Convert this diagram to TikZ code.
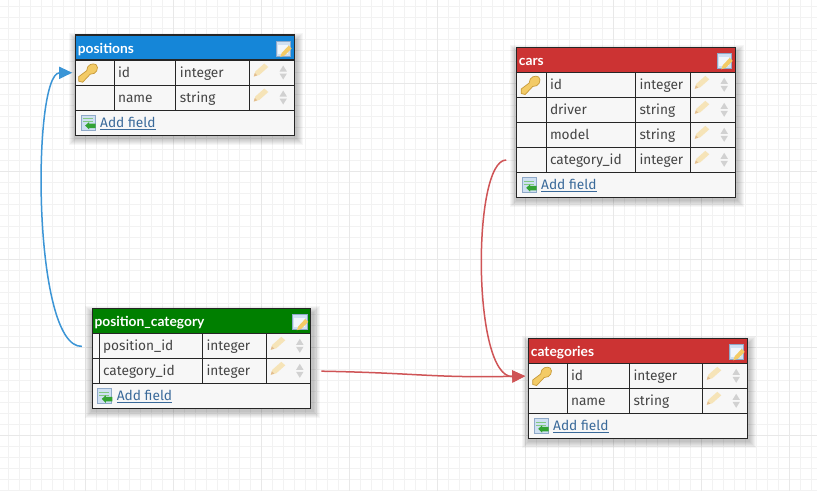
\documentclass[tikz,border=0pt]{standalone}
\usepackage{fontspec}
\setmainfont{Fira Sans}
\newfontfamily\titlefont{Lato}[BoldFont=* Bold]
\usetikzlibrary{arrows.meta}

\definecolor{posblue}{HTML}{1586D8}
\definecolor{carred}{HTML}{CC3333}
\definecolor{catgreen}{HTML}{007F00}
\definecolor{linkblue}{HTML}{3A6A9A}
\definecolor{rowgrey}{HTML}{F7F7F7}
\definecolor{textgrey}{HTML}{444444}
\definecolor{linkred}{HTML}{CF5456}
\definecolor{linkcyan}{HTML}{3B95D6}
\definecolor{keyfill}{HTML}{F3CB66}
\definecolor{keyedge}{HTML}{C79A3A}
\definecolor{penfill}{HTML}{F6E4B8}
\definecolor{pentip}{HTML}{E3BE90}
\definecolor{sheetfill}{HTML}{CFE0F2}
\definecolor{sheetedge}{HTML}{8FA9C8}

\tikzset{
	fieldtext/.style = {anchor = base west, inner sep = 0pt, text = textgrey, font = \fontsize{13.7}{16}\selectfont},
	titletext/.style = {anchor = base west, inner sep = 0pt, text = white, font = \titlefont\bfseries\fontsize{13.8}{16}\selectfont},
	linktext/.style = {anchor = base west, inner sep = 0pt, text = linkblue, font = \fontsize{13.7}{16}\selectfont},
	rowbox/.style = {anchor = north west, inner sep = 0pt, minimum width = 218.6pt, minimum height = 25pt},
	tabline/.style = {draw = black!85, line width = 1.1pt},
	link/.style = {line width = 1.5pt, -{Triangle[length = 13pt, width = 12pt]}},
	keyicon/.pic = {
		\draw [fill = keyfill, draw = keyedge, line width = 0.7pt, line join = round]
			(-9.5, 8.5) -- (-9.5, 4) -- (-1.5, -2) .. controls (-1.5, -8.5) and (5, -10) .. (8, -8)
			.. controls (11, -5) and (8.5, 2) .. (2, 1.5) -- (-5.5, 9.5) -- cycle;
	},
	penicon/.pic = {
		\fill [penfill] (-7.5, 7) -- (-6, 2) -- (3, -6) -- (7, -2.5) -- (-2, 5.5) -- cycle;
		\fill [pentip] (-7.5, 7) -- (-6.5, 3.5) -- (-4, 5.8) -- cycle;
	},
	sorticon/.pic = {
		\fill [black!18] (-3.7, -1.5) -- (0, -7.5) -- (3.7, -1.5) -- cycle;
		\fill [black!18] (-3.7, 0.5) -- (0, 6.5) -- (3.7, 0.5) -- cycle;
	},
	editicon/.pic = {
		\draw [fill = sheetfill, draw = sheetedge] (-7.5, -7.5) rectangle (7, 7.5);
		\fill [white!70!sheetfill] (-5.5, -3.5) rectangle (5, 5.5);
		\fill [keyfill] (-3, 8.5) -- (-1.5, 4.5) -- (5.5, -3) -- (8.5, 0) -- (1.5, 7) -- cycle;
	},
	addicon/.pic = {
		\draw [fill = sheetfill, draw = sheetedge] (-7.5, -7.5) rectangle (6.5, 7.5);
		\draw [green!40!gray!70] (-5.5, -4) -- (4.5, -4) (-5.5, -1) -- (4.5, -1);
		\fill [green!55!black!80] (-3, 3) -- (1, -0.5) -- (1, 1) -- (7.5, 1) -- (7.5, 5.5) -- (1, 5.5) -- (1, 7) -- cycle;
	},
}

% #1 name, #2 title, #3 colour, #4 left, #5 top, #6-#8 columns, #9 fields
\newcommand{\dbtable}[9]{
	\foreach \i in {1, ..., 7}
		\fill [black, opacity = 0.035] (#4 - 8 + \i, #5 - 3 + \i)
			rectangle ++(218.6 + 18 - 2 * \i, 25 * \tablerows + 50 + 14 - 2 * \i);
	\path [fill = rowgrey] (#4, #5) rectangle ++(218.6, 25 * \tablerows + 50.5);
	\fill [#3] (#4, #5) rectangle ++(218.6, 25);
	\node [titletext] (#1-title) at (#4 + 2, #5 + 18) {#2};
	\pic at (#4 + 207.5, #5 + 13.5) {editicon};
	\foreach \fieldname/\fieldtype [count = \n from 0] in {#9} {
		\node [rowbox] (#1-\n) at (#4, #5 + 25 + 25 * \n) {};
		\draw [tabline] (#1-\n.south west) -- (#1-\n.south east);
		\node [fieldtext] (#1-\n-name) at (#4 + #6 + 3.5, #5 + 42.5 + 25 * \n) {\fieldname};
		\node [fieldtext] (#1-\n-type) at (#4 + #7 + 4, #5 + 42.5 + 25 * \n) {\fieldtype};
		\pic at (#4 + #8 + 12, #5 + 34.5 + 25 * \n) {penicon};
		\pic at (#4 + 207.5, #5 + 38 + 25 * \n) {sorticon};
	}
	\draw [tabline] (#4, #5 + 25) -- ++(218.6, 0);
	\foreach \c in {#6, #7, #8}
		\draw [tabline] (#4 + \c, #5 + 25) -- ++(0, 25 * \tablerows);
	\pic at (#4 + 12.5, #5 + 25 * \tablerows + 37.5) {addicon};
	\node [linktext] (#1-add) at (#4 + 24.3, #5 + 25 * \tablerows + 42.5) {\underline{Add field}};
	\draw [tabline] (#4, #5) rectangle ++(218.6, 25 * \tablerows + 50.5);
}

\begin{document}
\begin{tikzpicture}[x = 1pt, y = -1pt]
	\useasboundingbox (0, 0) rectangle (817, 491);
	\fill [white] (0, 0) rectangle (817, 491);

	% grid
	\foreach \k in {0, ..., 74}
		\draw [black!5, line width = 0.6pt] (8 + 11 * \k, 0) -- (8 + 11 * \k, 491);
	\foreach \k in {0, ..., 44}
		\draw [black!5, line width = 0.6pt] (0, 6 + 11 * \k) -- (817, 6 + 11 * \k);
	\foreach \k in {0, ..., 8}
		\draw [black!9, line width = 0.8pt] (85 + 88 * \k, 0) -- (85 + 88 * \k, 491);
	\foreach \k in {0, ..., 4}
		\draw [black!9, line width = 0.8pt] (0, 83 + 88 * \k) -- (817, 83 + 88 * \k);

	\def\tablerows{2}
	\dbtable{positions}{positions}{posblue}{75.7}{35}{38.6}{100}{173.6}{id/integer, name/string}
	\dbtable{position_category}{position\_category}{catgreen}{92.3}{308.3}{7}{110}{174}{position\_id/integer, category\_id/integer}
	\dbtable{categories}{categories}{carred}{528.7}{338.3}{38.6}{100.6}{173.6}{id/integer, name/string}
	\def\tablerows{4}
	\dbtable{cars}{cars}{carred}{516.7}{47.3}{29.6}{118.6}{173.6}{id/integer, driver/string, model/string, category\_id/integer}

	\pic at ([xshift = 12.5pt]positions-0.west) {keyicon};
	\pic at ([xshift = 14pt]cars-0.west) {keyicon};
	\pic at ([xshift = 13.5pt]categories-0.west) {keyicon};

	% links
	\draw [link, linkcyan, shorten <= 10.5pt, shorten >= 3.5pt] (position_category-0.west) .. controls (32, 348) and (32, 73) .. (positions-0.west);
	\draw [link, linkred, shorten <= 10.5pt, shorten >= 3.5pt] (cars-3.west) .. controls (472, 160) and (472, 378) .. (categories-0.west);
	\draw [link, linkred, shorten <= 10pt, shorten >= 3.5pt] (position_category-1.east) .. controls (420, 373) and (430, 378) .. (categories-0.west);
\end{tikzpicture}
\end{document}
